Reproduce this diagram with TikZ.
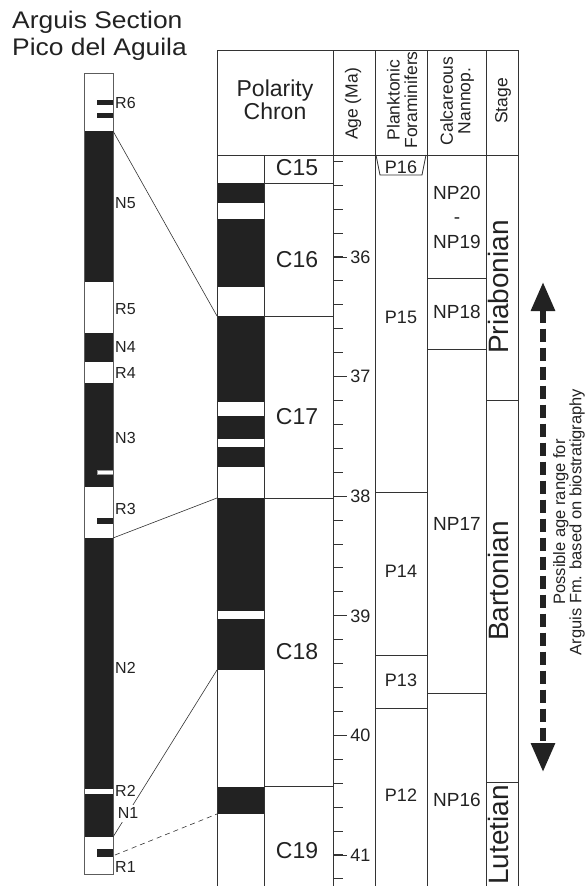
\documentclass[tikz,border=0pt]{standalone}
\usepackage{fontspec}
\setmainfont{Liberation Sans}
\newfontfamily\titlefont[FakeStretch=1.1]{Liberation Sans}
\usetikzlibrary{arrows.meta, positioning}
\definecolor{ink}{HTML}{222222}
\definecolor{rule}{HTML}{333333}

\begin{document}
\begin{tikzpicture}[
    x=1pt, y=-1pt,
    rulebox/.style={draw=rule, line width=0.8pt},
    band/.style={fill=ink},
    chron/.style={font=\fontsize{23}{23}\selectfont, text=ink},
    zone/.style={font=\fontsize{18}{18}\selectfont, text=ink},
    nanno/.style={font=\fontsize{19}{24.5}\selectfont, text=ink, align=center},
    header/.style={font=\fontsize{17.5}{17.5}\selectfont, rotate=90, align=center, text=ink},
    stage/.style={font=\fontsize{28}{28}\selectfont, rotate=90, text=ink},
    mag/.style={font=\fontsize{16}{16}\selectfont, anchor=west, inner sep=1pt, text=ink},
    agelabel/.style={font=\fontsize{18}{18}\selectfont, anchor=west, inner sep=3pt, text=ink},
    tie/.style={draw=rule, line width=0.6pt}
]
\useasboundingbox (0,0) rectangle (587,886);

% Title
\node[font=\titlefont\fontsize{24}{24}\selectfont, text=ink, anchor=base west, inner sep=0] (titleA) at (12,28.3) {Arguis Section};
\node[font=\titlefont\fontsize{24}{24}\selectfont, text=ink, anchor=base west, inner sep=0] (titleB) at (12,55) {Pico del Aguila};

% Arguis section column
\foreach \a/\b in {131/282, 333/362, 383/487, 538/789, 794/837}
    \fill[band] (84,\a) rectangle (113,\b);
\foreach \a/\b in {100/104.5, 113/118, 518/524, 849/857}
    \fill[band] (97,\a) rectangle (113,\b);
\filldraw[fill=white, draw=rule!50, line width=0.4pt] (97,470) rectangle (113,474);
\draw[draw=rule!80, line width=0.8pt] (84,73) rectangle (113,874);

% Polarity column
\foreach \a/\b in {183/203, 219/287, 316/402, 416/439, 447/467, 498/611, 619/670, 787/814}
    \fill[band] (217,\a) rectangle (264,\b);

% Table frame
\foreach \x in {217,333,375,427,486,518}
    \draw[rulebox] (\x,50) -- (\x,886);
\draw[rulebox] (217,50) -- (518,50);
\draw[rulebox] (217,155) -- (518,155);
\draw[rulebox] (264,155) -- (264,886);
\foreach \y in {183,316,498,786}
    \draw[rulebox] (264,\y) -- (333,\y);
\draw[rulebox] (376,155) -- (380,175) -- (422,175) -- (426,155);
\foreach \y in {492,655,708}
    \draw[rulebox] (375,\y) -- (427,\y);
\foreach \y in {278,349,693}
    \draw[rulebox] (427,\y) -- (486,\y);
\foreach \y in {400,782}
    \draw[rulebox] (486,\y) -- (518,\y);

% Age scale
\foreach \i in {0,...,30}
    \draw[rulebox] (333,{161.2+23.92*\i}) -- (343,{161.2+23.92*\i});
\foreach \a [evaluate=\a as \y using 257+(\a-36)*119.6] in {36,...,41}
    \draw[rulebox] (333,\y) -- (347,\y) node[agelabel] (age\a) {\a};

% Headers
\node[font=\fontsize{23}{23}\selectfont, text=ink, align=center] (polhead) at (275,100) {Polarity\\Chron};
\node[header] (agehead) at (353,104) {Age (Ma)};
\node[header] (forhead) at (402,100) {Planktonic\\Foraminifers};
\node[header] (nanhead) at (457,101) {Calcareous\\Nannop.};
\node[header] (stghead) at (503,101) {Stage};

% Chrons
\node[chron] (c15) at (297,168) {C15};
\node[chron] (c16) at (297,260) {C16};
\node[chron] (c17) at (297,417) {C17};
\node[chron] (c18) at (297,652) {C18};
\node[chron] (c19) at (297,851) {C19};

% Foraminifer zones
\node[zone] (p16) at (401,167) {P16};
\node[zone] (p15) at (401,317) {P15};
\node[zone] (p14) at (401,571) {P14};
\node[zone] (p13) at (401,680) {P13};
\node[zone] (p12) at (401,795) {P12};

% Nannofossil zones
\node[nanno] (np20) at (457,217) {NP20\\-\\NP19};
\node[nanno] (np18) at (457,312) {NP18};
\node[nanno] (np17) at (457,524) {NP17};
\node[nanno] (np16) at (457,800) {NP16};

% Stages
\node[stage] (priab) at (498,287) {Priabonian};
\node[stage] (barto) at (498,581) {Bartonian};
\node[stage] (lutet) at (498,835) {Lutetian};

% Magnetozones
\node[mag] (r6) at (114,103) {R6};
\node[mag] (n5) at (114,203) {N5};
\node[mag] (r5) at (114,309) {R5};
\node[mag] (n4) at (114,347) {N4};
\node[mag] (r4) at (114,373) {R4};
\node[mag] (n3) at (114,438) {N3};
\node[mag] (r3) at (114,509) {R3};
\node[mag] (n2) at (114,668) {N2};
\node[mag] (r2) at (114,791) {R2};
\node[mag] (r1) at (114,867) {R1};

% Correlation ties
\coordinate (n5top) at (113,131);
\coordinate (r3base) at (113,538);
\coordinate (n1top) at (113,837);
\coordinate (r1mark) at (115,855);
\coordinate (c17top) at (217,316);
\coordinate (c18top) at (217,498);
\coordinate (c18band) at (217,670);
\coordinate (c19top) at (217,814);
\draw[tie] (n5top) -- (c17top);
\draw[tie] (r3base) -- (c18top);
\draw[tie] (n1top) -- (c18band);
\draw[tie, dash pattern=on 5pt off 4pt] (r1mark) -- (c19top);
\node[mag, anchor=center, fill=white, inner sep=3pt] (n1) at (128,813) {N1};

% Age range arrow
\coordinate (rangetop) at (543,282);
\coordinate (rangebot) at (543,772);
\draw[draw=ink, line width=6pt, dash pattern=on 13pt off 6pt,
    {Triangle[width=23pt,length=29pt]}-{Triangle[width=23pt,length=29pt]}] (rangetop) -- (rangebot);
\node[font=\fontsize{16.5}{15}\selectfont, text=ink, rotate=90, align=center, inner sep=0pt] (rangetext) at (569,522)
    {Possible age range for\\Arguis Fm. based on biostratigraphy};

\end{tikzpicture}
\end{document}
